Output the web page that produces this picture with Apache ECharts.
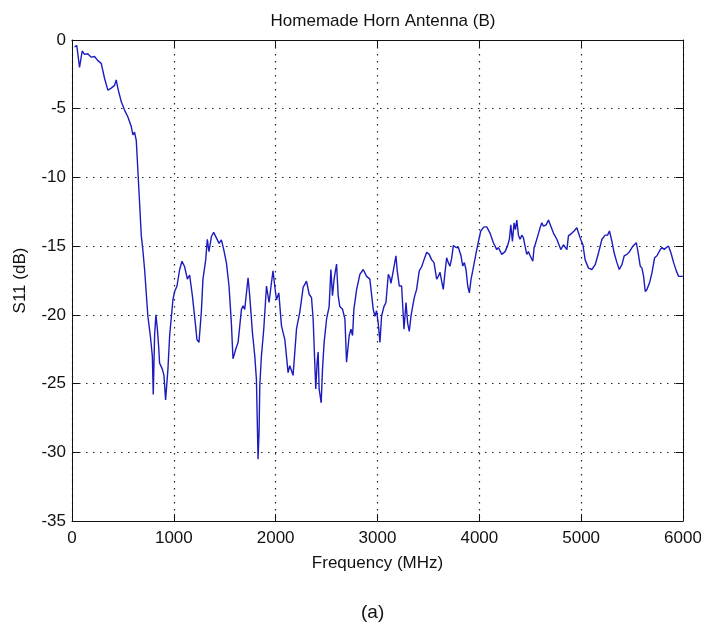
<!DOCTYPE html>
<html>
<head>
<meta charset="utf-8">
<title>Homemade Horn Antenna (B)</title>
<script src="https://cdn.jsdelivr.net/npm/echarts@6/dist/echarts.min.js"></script>
<style>
  html, body { margin: 0; padding: 0; background: #fff; }
  #chart { width: 701px; height: 624px; }
</style>
</head>
<body>
<div id="chart"></div>
<script>
// frequency (MHz) and S11 (dB)
const freq = [
  25, 47, 74, 100, 123, 155, 189, 221, 254, 287, 320, 352, 385, 418, 434, 450, 484, 516, 549, 582,
  598, 614, 631, 647, 664, 680, 696, 713, 745, 769, 789, 798, 811, 824, 838, 851, 860, 887, 903, 919,
  942, 959, 991, 1008, 1031, 1057, 1080, 1106, 1133, 1155, 1182, 1211, 1227, 1247, 1270, 1286, 1313, 1329, 1345, 1369,
  1391, 1418, 1444, 1467, 1490, 1516, 1542, 1565, 1581, 1608, 1631, 1664, 1680, 1696, 1729, 1745, 1772, 1795, 1811, 1821,
  1827, 1837, 1844, 1860, 1883, 1910, 1935, 1958, 1974, 1991, 2008, 2031, 2057, 2090, 2122, 2139, 2171, 2205, 2237, 2270,
  2303, 2329, 2352, 2368, 2385, 2394, 2407, 2417, 2427, 2447, 2460, 2476, 2500, 2525, 2542, 2558, 2574, 2598, 2614, 2630,
  2657, 2680, 2696, 2722, 2739, 2755, 2768, 2795, 2827, 2860, 2893, 2925, 2958, 2975, 2991, 3007, 3024, 3040, 3063, 3083,
  3106, 3122, 3132, 3155, 3181, 3194, 3214, 3237, 3260, 3280, 3296, 3312, 3329, 3345, 3361, 3384, 3410, 3434, 3456, 3483,
  3508, 3532, 3555, 3581, 3597, 3614, 3630, 3646, 3663, 3679, 3695, 3712, 3729, 3745, 3771, 3794, 3820, 3837, 3853, 3869,
  3886, 3902, 3919, 3935, 3951, 3968, 3990, 4014, 4046, 4073, 4105, 4138, 4171, 4187, 4220, 4253, 4276, 4295, 4309, 4325,
  4341, 4354, 4368, 4384, 4400, 4417, 4433, 4449, 4466, 4482, 4499, 4515, 4525, 4538, 4548, 4574, 4597, 4614, 4630, 4656,
  4679, 4702, 4728, 4761, 4800, 4826, 4843, 4860, 4875, 4909, 4931, 4958, 4974, 4990, 5017, 5039, 5072, 5105, 5138, 5170,
  5204, 5236, 5259, 5278, 5302, 5324, 5351, 5374, 5400, 5423, 5449, 5475, 5508, 5541, 5558, 5580, 5597, 5613, 5629, 5646,
  5672, 5695, 5721, 5744, 5760, 5777, 5794, 5816, 5836, 5858, 5882, 5908, 5934, 5957, 5990, 6000
];
const s11 = [
  -0.5, -0.4, -2.0, -0.8, -1.05, -1.0, -1.25, -1.2, -1.5, -1.7, -2.8, -3.65, -3.5, -3.3, -2.9, -3.5, -4.5, -5.1, -5.6, -6.3,
  -6.9, -6.7, -7.3, -9.5, -11.9, -14.2, -15.3, -16.7, -20.1, -21.5, -23.0, -25.8, -21.5, -20.0, -21.0, -22.3, -23.5, -23.95, -24.4, -26.2,
  -23.95, -21.5, -18.9, -18.3, -17.9, -16.7, -16.1, -16.5, -17.4, -17.1, -18.6, -20.6, -21.8, -22.0, -19.8, -17.4, -16.0, -14.5, -15.4, -14.3,
  -14.0, -14.4, -14.8, -14.55, -15.25, -16.2, -17.9, -20.6, -23.2, -22.5, -22.0, -19.6, -19.35, -19.6, -17.3, -18.6, -21.3, -23.0, -24.7, -28.3,
  -30.5, -28.5, -25.2, -23.0, -21.05, -17.9, -19.1, -17.7, -16.8, -17.9, -18.9, -18.4, -20.8, -21.8, -24.2, -23.7, -24.4, -21.0, -19.8, -18.0,
  -17.55, -18.5, -18.75, -20.3, -23.7, -25.4, -23.45, -22.7, -25.4, -26.4, -23.95, -22.0, -20.3, -19.4, -16.7, -18.6, -17.4, -16.3, -18.6, -19.4,
  -19.6, -20.3, -23.45, -21.5, -21.05, -21.5, -19.6, -18.15, -17.05, -16.7, -17.2, -17.4, -19.6, -20.1, -19.7, -20.6, -22.0, -20.1, -19.4, -19.1,
  -17.05, -17.3, -17.7, -16.8, -15.7, -16.8, -17.9, -17.9, -21.05, -19.1, -20.6, -21.2, -20.1, -19.4, -18.75, -18.15, -16.8, -16.5, -16.0, -15.45,
  -15.6, -16.0, -16.2, -17.4, -17.2, -16.9, -17.55, -18.15, -16.9, -15.85, -16.2, -16.45, -15.85, -14.95, -15.1, -15.1, -15.7, -16.45, -16.2, -16.7,
  -17.9, -18.4, -17.4, -16.8, -16.7, -15.5, -14.7, -13.9, -13.6, -13.6, -14.05, -14.75, -15.25, -15.1, -15.6, -15.4, -15.0, -14.5, -13.45, -14.65,
  -13.3, -13.8, -13.1, -14.2, -14.5, -14.2, -14.4, -15.0, -15.6, -15.4, -15.7, -15.6, -16.1, -15.1, -14.9, -14.25, -13.65, -13.3, -13.55, -13.45,
  -13.1, -13.55, -14.05, -14.5, -15.25, -14.9, -15.0, -15.25, -14.25, -14.05, -13.9, -13.65, -14.05, -14.4, -14.9, -16.0, -16.6, -16.7, -16.35, -15.5,
  -14.5, -14.2, -14.2, -13.9, -14.65, -15.5, -16.2, -16.7, -16.35, -15.7, -15.6, -15.4, -15.0, -14.75, -15.4, -16.45, -16.6, -17.2, -18.3, -18.15,
  -17.65, -16.95, -15.85, -15.7, -15.7, -15.25, -15.1, -15.25, -15.1, -15.0, -15.5, -16.2, -16.8, -17.2, -17.2, -17.2
];

const xMin = 0, xMax = 6000, xStep = 1000;
const yMin = -35, yMax = 0, yStep = 5;

const font = '"Liberation Sans", Arial, sans-serif';

const chart = echarts.init(document.getElementById('chart'));

// axis frame like matlab: ticks inside, on all four sides
const frameAxis = (extra) => Object.assign({
  type: 'value',
  axisLine: { show: true, onZero: false, lineStyle: { color: '#111', width: 1 } },
  axisTick: { show: true, inside: true, length: 7, lineStyle: { color: '#111' } },
  splitLine: { show: false },
  axisLabel: { show: false }
}, extra);

const gridLine = { show: true, lineStyle: { color: '#222', width: 1.2, type: [1.5, 5.5] } };

chart.setOption({
  animation: false,
  backgroundColor: '#fff',
  title: {
    text: 'Homemade Horn Antenna (B)',
    left: 378,
    top: 8,
    textAlign: 'center',
    textStyle: { fontFamily: font, fontSize: 17, fontWeight: 'normal', color: '#111' }
  },
  grid: { left: 72, right: 18, top: 40, bottom: 103, containLabel: false, outerBoundsMode: 'none' },
  xAxis: [
    frameAxis({
      min: xMin, max: xMax, interval: xStep,
      position: 'bottom',
      name: 'Frequency (MHz)',
      nameLocation: 'middle',
      nameGap: 34,
      nameTextStyle: { fontFamily: font, fontSize: 17, color: '#111' },
      axisLabel: { show: true, margin: 9, fontFamily: font, fontSize: 17, color: '#111', formatter: (v) => String(v) },
      splitLine: gridLine
    }),
    frameAxis({ min: xMin, max: xMax, interval: xStep, position: 'top' })
  ],
  yAxis: [
    frameAxis({
      min: yMin, max: yMax, interval: yStep,
      position: 'left',
      name: 'S11 (dB)',
      nameLocation: 'middle',
      nameGap: 43,
      nameTextStyle: { fontFamily: font, fontSize: 17, color: '#111' },
      axisLabel: { show: true, margin: 6, fontFamily: font, fontSize: 17, color: '#111', formatter: (v) => String(v) },
      splitLine: gridLine
    }),
    frameAxis({ min: yMin, max: yMax, interval: yStep, position: 'right' })
  ],
  graphic: [{
    type: 'text',
    left: 361,
    top: 603,
    style: { text: '(a)', fontFamily: font, fontSize: 19, fill: '#111' }
  }],
  series: [{
    type: 'line',
    xAxisIndex: 0,
    yAxisIndex: 0,
    data: freq.map((f, i) => [f, s11[i]]),
    symbol: 'none',
    lineStyle: { color: '#1c1cbe', width: 1.4 }
  }]
});
</script>
</body>
</html>
